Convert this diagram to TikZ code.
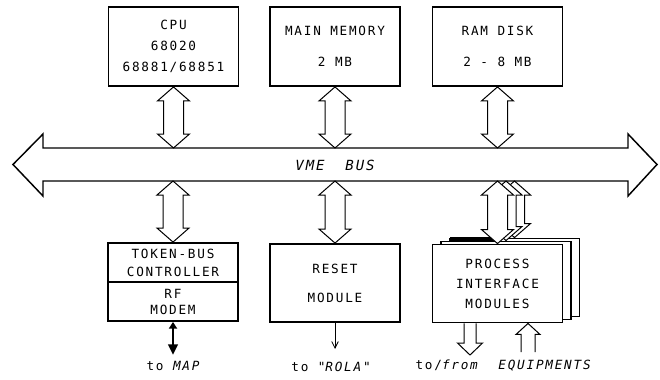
\documentclass[tikz,border=0pt]{standalone}
\usepackage{fontspec}
\newfontfamily\plotfont[LetterSpace=14]{DejaVu Sans Mono}
\usetikzlibrary{arrows.meta,calc}
\tikzset{
  box/.style={draw, line width=1.4pt, fill=white, minimum width=97.5pt, inner sep=0pt,
    align=center, font=\plotfont\fontsize{9.5pt}{#1}\selectfont},
  box/.default=12pt,
  fatarrow/.style={draw, line width=0.75pt, fill=white, line join=miter},
  lbl/.style={font=\plotfont\fontsize{9.5pt}{11pt}\selectfont, inner sep=0pt},
  busline/.style={draw, line width=1.1pt, fill=white, line join=miter},
}
% double-headed fat vertical arrow, tips at #1 (upper) and #2 (lower)
\newcommand\fatdbl[2]{%
  \path[fatarrow] let \p1=(#1),\p2=(#2) in
    (\x1-7.5pt,\y1-10.5pt) -- (\x1-12pt,\y1-10.5pt) -- (\x1,\y1) -- (\x1+12pt,\y1-10.5pt)
    -- (\x1+7.5pt,\y1-10.5pt) -- (\x1+7.5pt,\y2+10.5pt) -- (\x1+12pt,\y2+10.5pt)
    -- (\x1,\y2) -- (\x1-12pt,\y2+10.5pt) -- (\x1-7.5pt,\y2+10.5pt) -- cycle;}
% single fat arrow pointing down: tail #1, tip #2
\newcommand\fatdown[2]{%
  \path[fatarrow] let \p1=(#1),\p2=(#2) in
    (\x2-4.5pt,\y1) -- (\x2-4.5pt,\y2+9pt) -- (\x2-9.4pt,\y2+9pt) -- (\x2,\y2)
    -- (\x2+9.4pt,\y2+9pt) -- (\x2+4.5pt,\y2+9pt) -- (\x2+4.5pt,\y1);}
% single fat arrow pointing up: tail #1, tip #2
\newcommand\fatup[2]{%
  \path[fatarrow] let \p1=(#1),\p2=(#2) in
    (\x2-5.25pt,\y1) -- (\x2-5.25pt,\y2-8.25pt) -- (\x2-9pt,\y2-8.25pt) -- (\x2,\y2)
    -- (\x2+9pt,\y2-8.25pt) -- (\x2+5.25pt,\y2-8.25pt) -- (\x2+5.25pt,\y1);}
\begin{document}
\begin{tikzpicture}[x=0.75pt,y=-0.75pt]
\useasboundingbox (0,0) rectangle (660,379);
% VME bus
\path[busline] (13,164.5) -- (43,134) -- (43,148) -- (628,148) -- (628,134) -- (657,164.5)
  -- (628,196) -- (628,181) -- (43,181) -- (43,196) -- cycle;
\coordinate (bustop) at (0,148);
\coordinate (busbot) at (0,181);
\node[lbl, font=\plotfont\fontsize{10.5pt}{12pt}\selectfont] (busname) at (335,165) {\itshape VME\ \ BUS};
% top row
\node[box=15.75pt, minimum height=59.25pt] (cpu) at (173.5,46.5) {CPU\\68020\\68881/68851};
\node[box=23.25pt, minimum height=59.25pt] (mem) at (335,46.5) {MAIN MEMORY\\2 MB};
\node[box=23.25pt, minimum height=59.25pt] (ram) at (497.5,46.5) {RAM DISK\\2 - 8 MB};
\fatdbl{cpu.south}{cpu.south |- bustop}
\fatdbl{mem.south}{mem.south |- bustop}
\fatdbl{ram.south}{ram.south |- bustop}
% bottom row
\node[box=13.5pt, minimum height=29.25pt] (tbc) at (173,262.5) {TOKEN-BUS\\CONTROLLER};
\node[box=12pt, minimum height=29.25pt] (rfm) at (173,301.5) {RF\\MODEM};
\node[box=21.75pt, minimum height=58.5pt] (rst) at (335,283) {RESET\\MODULE};
\fatdbl{tbc.north |- busbot}{tbc.north}
\fatdbl{rst.north |- busbot}{rst.north}
% stacked process interface modules
\node[box, minimum height=58.5pt] (pim3) at (514.5,277.5) {};
\fatdbl{pim3.north |- busbot}{pim3.north}
\node[box, minimum height=58.5pt] (pim2) at (506,280.5) {};
\draw[line width=3.2pt] ($(pim2.north west)+(10,-1.5)$) -- ($(pim2.north)+(-10,-1.5)$);
\fatdbl{pim2.north |- busbot}{pim2.north}
\node[box=15pt, minimum height=58.5pt] (pim) at (497.5,283.5) {PROCESS\\INTERFACE\\MODULES};
\fatdbl{pim.north |- busbot}{pim.north}
% outputs
\coordinate (mapend) at (173,355);
\draw[line width=2.2pt, {Triangle[length=5pt,width=6pt]}-{Triangle[length=8pt,width=7pt]}]
  (rfm.south) -- (mapend);
\node[lbl] (tomap) at (173,366) {to \itshape MAP};
\coordinate (rolaend) at (335,349);
\draw[line width=0.6pt, -{Straight Barb[length=5pt,width=5pt]}] (rst.south) -- (rolaend);
\node[lbl] (torola) at (331,367) {to "\textit{ROLA}"};
\coordinate (eqout) at (470,355);
\coordinate (eqin) at (528,352);
\fatdown{pim.south -| eqout}{eqout}
\fatup{eqin}{pim.south -| eqin}
\node[lbl] (toeq) at (504,366) {to/\textit{from}\ \ \textit{EQUIPMENTS}};
\end{tikzpicture}
\end{document}
